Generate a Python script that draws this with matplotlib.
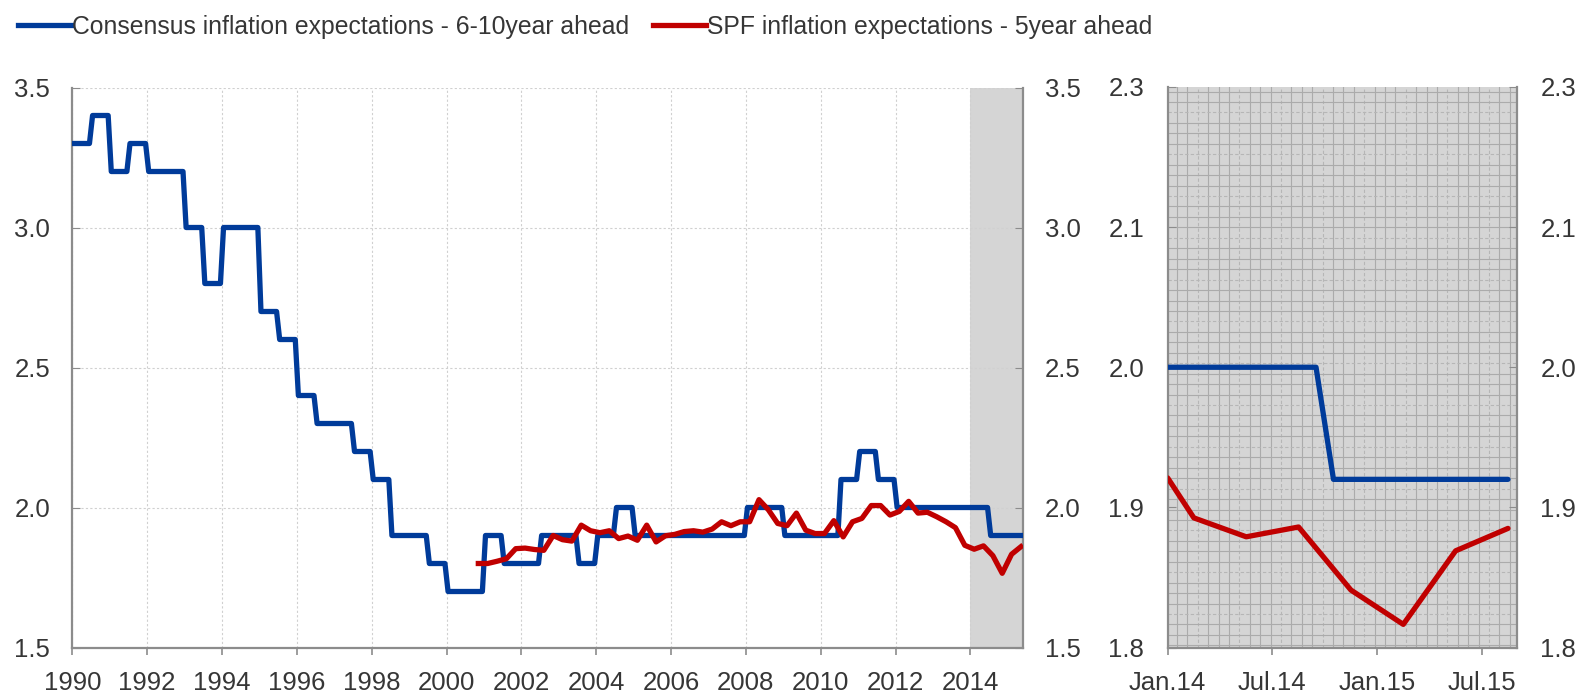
import numpy as np
import matplotlib
matplotlib.use("Agg")
import matplotlib.pyplot as plt

# Inflation expectations: Consensus (6-10y ahead) vs SPF (5y ahead)

plt.rcParams['font.family'] = ['Liberation Sans', 'DejaVu Sans']
plt.rcParams['font.size'] = 18.5
TXT = '#363636'
BLUE = '#003b9a'
RED = '#c00000'
SPINE = '#8c8c8c'

# Consensus, semi-annual values 1990H1 .. 2015H1 (held for 6 months each)
consensus_start = 1990
consensus_halfyear = [3.3, 3.4, 3.2, 3.3, 3.2, 3.2, 3.0, 2.8, 3.0, 3.0,
                      2.7, 2.6, 2.4, 2.3, 2.3, 2.2, 2.1, 1.9, 1.9, 1.8,
                      1.7, 1.7, 1.9, 1.8, 1.8, 1.9, 1.9, 1.8, 1.9, 2.0,
                      1.9, 1.9, 1.9, 1.9, 1.9, 1.9, 2.0, 2.0, 1.9, 1.9,
                      1.9, 2.1, 2.2, 2.1, 2.0, 2.0, 2.0, 2.0, 2.0, 1.9,
                      1.9]

# SPF, quarterly from 2001Q1
spf_first = 2000.85
spf_values = [1.80, 1.80, 1.808, 1.817, 1.853, 1.855, 1.85, 1.847, 1.90, 1.885,
              1.88, 1.937, 1.917, 1.91, 1.917, 1.889, 1.898, 1.883, 1.937, 1.877,
              1.899, 1.904, 1.914, 1.917, 1.912, 1.923, 1.949, 1.935, 1.949, 1.949,
              2.028, 1.992, 1.943, 1.935, 1.98, 1.919, 1.907, 1.907, 1.953, 1.895,
              1.949, 1.961, 2.007, 2.007, 1.973, 1.986, 2.022, 1.98, 1.983, 1.967,
              1.949, 1.928, 1.865, 1.851, 1.863, 1.828, 1.765, 1.833, 1.86]

# Zoom panel (months since Jan.14)
zoom_cons_months = [0, 8.5, 9.5, 19.5]
zoom_cons_values = [2.0, 2.0, 1.92, 1.92]
zoom_spf_months = [0, 1.5, 4.5, 7.5, 10.5, 13.5, 16.5, 19.5]
zoom_spf_values = [1.921, 1.8925, 1.879, 1.886, 1.841, 1.8165, 1.869, 1.885]
zoom_ticks = [0, 6, 12, 18]
zoom_labels = ['Jan.14', 'Jul.14', 'Jan.15', 'Jul.15']

left_yticks = [1.5, 2.0, 2.5, 3.0, 3.5]
right_yticks = [1.8, 1.9, 2.0, 2.1, 2.2]
right_ylabels = ['1.8', '1.9', '2.0', '2.1', '2.3']   # as printed on the original

legend_labels = ['Consensus inflation expectations - 6-10year ahead',
                 'SPF inflation expectations - 5year ahead']

# monthly series for the step-like consensus line
cons_monthly = np.repeat(consensus_halfyear, 6)
cons_x = consensus_start + (np.arange(len(cons_monthly)) + 0.5) / 12
spf_x = spf_first + 0.25 * np.arange(len(spf_values))

fig = plt.figure(figsize=(15.83, 6.96), dpi=100)
ax = fig.add_axes([72.3 / 1583, 1 - 647.5 / 696, 950.5 / 1583, 560 / 696])
ax2 = fig.add_axes([1167.7 / 1583, 1 - 647.5 / 696, 349 / 1583, 560.5 / 696])


def style_axes(a, ypad):
    a.tick_params(axis='y', direction='in', length=6, color=SPINE, labelcolor=TXT,
                  left=True, right=True, labelleft=True, labelright=True, pad=ypad)
    a.tick_params(axis='x', direction='out', length=5, width=1.2, color=SPINE,
                  labelcolor=TXT, pad=12)
    for s in ['left', 'right', 'bottom']:
        a.spines[s].set_color(SPINE)
        a.spines[s].set_linewidth(1.6)
    a.spines['top'].set_visible(False)


# ---- left panel ----
ax.axvspan(2014, 2015.4, color='#d5d5d5', lw=0, zorder=0)
l1, = ax.plot(cons_x, cons_monthly, color=BLUE, lw=3.8, zorder=3)
l2, = ax.plot(spf_x, spf_values, color=RED, lw=3.8, solid_joinstyle='round', zorder=4)
ax.set_xlim(1990, 2015.4)
ax.set_ylim(1.5, 3.5)
ax.set_xticks(range(1990, 2015, 2))
ax.set_yticks(left_yticks)
ax.set_yticklabels([f'{v:.1f}' for v in left_yticks])
ax.grid(True, color='#d0d0d0', ls=(0, (2, 2)), lw=0.8)
ax.set_axisbelow(True)
style_axes(ax, 16)

# ---- right panel ----
ax2.set_facecolor('#d5d5d5')
# grid texture of the shaded panel
w_px, h_px = 349.0, 560.5
xs = np.arange(9.3, w_px, 10.4) / w_px
ys = np.arange(4.5, h_px, 10.45) / h_px
for i, xf in enumerate(xs):
    dashed = (i % 4 == 2)
    ax2.plot([xf, xf], [0, 1], transform=ax2.transAxes,
             color='#b6b6b6' if dashed else '#ababab', lw=0.8,
             ls=(0, (3, 2)) if dashed else '-', zorder=0.5)
for i, yf in enumerate(ys):
    dashed = (i % 4 == 2)
    ax2.plot([0, 1], [1 - yf, 1 - yf], transform=ax2.transAxes,
             color='#b6b6b6' if dashed else '#ababab', lw=0.8,
             ls=(0, (3, 2)) if dashed else '-', zorder=0.5)

ax2.plot(zoom_cons_months, zoom_cons_values, color=BLUE, lw=3.8, zorder=3,
         solid_capstyle='round')
ax2.plot(zoom_spf_months, zoom_spf_values, color=RED, lw=3.8, zorder=4,
         solid_capstyle='round')
ax2.set_xlim(0, 20)
ax2.set_ylim(1.8, 2.2)
ax2.set_xticks(zoom_ticks)
ax2.set_xticklabels(zoom_labels)
ax2.set_yticks(right_yticks)
ax2.set_yticklabels(right_ylabels)
style_axes(ax2, 17)

# ---- legend ----
fig.legend([l1, l2], legend_labels, loc='upper left', ncol=2,
           bbox_to_anchor=(-0.003, 1.011), frameon=False, handlelength=2.15,
           handletextpad=0.05, columnspacing=0.95, labelcolor=TXT, fontsize=17.8)

fig.savefig('out.png', dpi=100)
